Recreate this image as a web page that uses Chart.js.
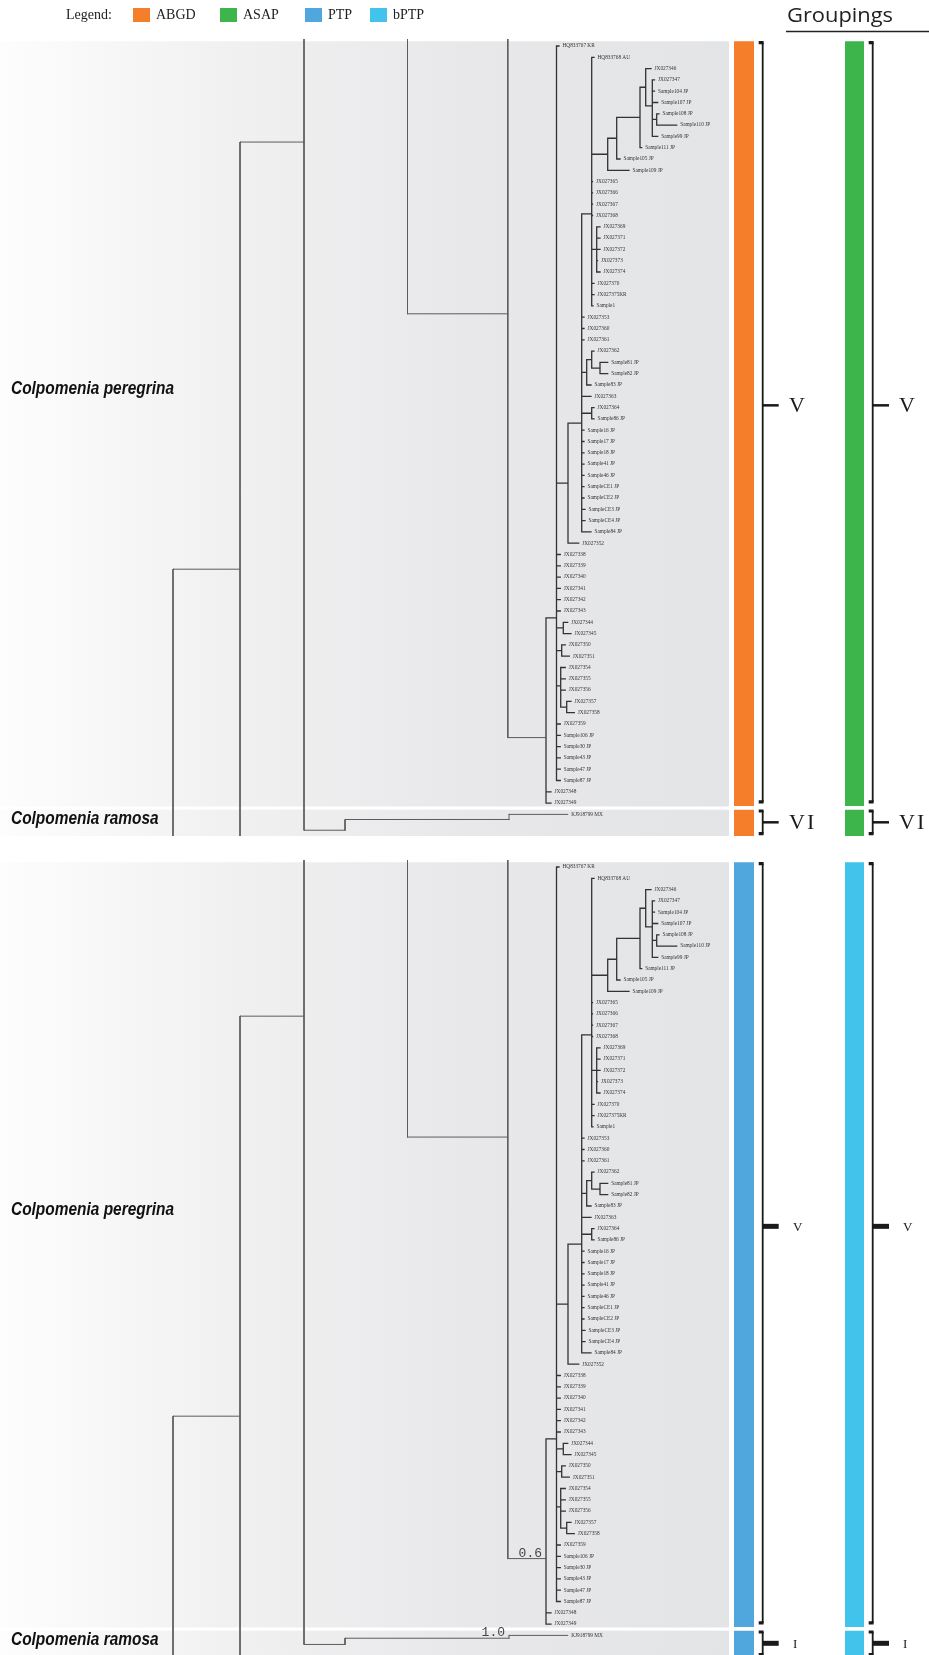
<!DOCTYPE html>
<html>
<head>
<meta charset="utf-8">
<script src="https://cdn.jsdelivr.net/npm/chart.js@4.4.1/dist/chart.umd.min.js"></script>
<style>
  html, body { margin: 0; padding: 0; background: #fff; }
  body { width: 929px; height: 1655px; position: relative; overflow: hidden; }
  canvas { position: absolute; left: 0; }
</style>
</head>
<body>
<canvas id="treeTop" width="929" height="836" style="top:0px"></canvas>
<canvas id="treeBottom" width="929" height="834" style="top:821px"></canvas>
<script>
// Tips of the tree, top to bottom (one row each)
const leafNames = [
  'HQ833767 KR', 'HQ833768 AU', 'JX027346', 'JX027347', 'Sample104 JP', 'Sample107 JP',
  'Sample108 JP', 'Sample110 JP', 'Sample99 JP', 'Sample111 JP', 'Sample105 JP', 'Sample109 JP',
  'JX027365', 'JX027366', 'JX027367', 'JX027368', 'JX027369', 'JX027371', 'JX027372', 'JX027373',
  'JX027374', 'JX027370', 'JX027375KR', 'Sample1', 'JX027353', 'JX027360', 'JX027361', 'JX027362',
  'Sample81 JP', 'Sample82 JP', 'Sample83 JP', 'JX027363', 'JX027364', 'Sample86 JP', 'Sample16 JP',
  'Sample17 JP', 'Sample18 JP', 'Sample41 JP', 'Sample46 JP', 'SampleCE1 JP', 'SampleCE2 JP',
  'SampleCE3 JP', 'SampleCE4 JP', 'Sample84 JP', 'JX027352', 'JX027338', 'JX027339', 'JX027340',
  'JX027341', 'JX027342', 'JX027343', 'JX027344', 'JX027345', 'JX027350', 'JX027351', 'JX027354',
  'JX027355', 'JX027356', 'JX027357', 'JX027358', 'JX027359', 'Sample106 JP', 'Sample30 JP',
  'Sample43 JP', 'Sample47 JP', 'Sample87 JP', 'JX027348', 'JX027349', 'KJ918799 MX'
];
// depth where each tip branch ends
const tipDepth = [
  559, 594, 651, 654.5, 654.5, 657.7, 659, 676.7, 657.7, 641.7, 620, 629,
  592.5, 592.5, 592.5, 592.5, 600, 600, 600, 597.5, 600, 594, 594, 593,
  584, 584, 584, 594, 607.7, 607.7, 591, 591, 594, 594,
  584, 584, 584, 584, 584, 584, 584, 585, 585, 591, 578.7,
  560.3, 560.3, 560.3, 560.3, 560.3, 560.3, 567.7, 571, 565.3, 569.3,
  565.3, 565.3, 565.3, 571, 574.3, 560.3, 560.3, 560.3, 560.3, 560.3, 560.3,
  551, 551, 567.7
];

// internal nodes of the Colpomenia peregrina clade
const cladeIds = ['O', 'P', 'Q', 'R', 'S', 'V', 'AC', 'AB', 'AA', 'Y', 'Z', 'W', 'T', 'T1', 'T2', 'U', 'c344', 'c350', 'c354', 'c357'];
const cladeDepth = [546, 556.5, 568, 581.7, 591.7, 607.7, 616.7, 640, 645.7, 652.3, 656.7, 596.7, 586.7, 591.7, 600, 591.7, 563.3, 561.7, 560.7, 566.7];
const cladeKids = [
  ['P', 66, 67],
  [0, 'Q', 45, 46, 47, 48, 49, 50, 'c344', 'c350', 'c354', 60, 61, 62, 63, 64, 65],
  ['R', 44],
  ['S', 24, 25, 26, 'T', 31, 'U', 34, 35, 36, 37, 38, 39, 40, 41, 42, 43],
  [1, 'V', 12, 13, 14, 15, 'W', 21, 22, 23],
  ['AC', 11],
  ['AB', 10],
  ['AA', 9],
  [2, 'Y'],
  [3, 4, 5, 'Z', 8],
  [6, 7],
  [16, 17, 18, 19, 20],
  ['T1', 30],
  [27, 'T2'],
  [28, 29],
  [32, 33],
  [51, 52],
  [53, 54],
  [55, 56, 57, 'c357'],
  [58, 59]
];

// deeper part of the tree, cut by the panel edges
// [depth, parent depth, row of branch, vertical from, vertical to, child]
const backboneTop = [
  [173, null, null, 46.3, 75],
  [240, 173, 46.3, 8.5, 75],
  [304, 240, 8.5, -5, 69.4],
  [345, 304, 69.4, 68.45, 69.4],
  [509, 345, 68.45, 68.45, null, 68],
  [407.5, null, null, -5, 23.7],
  [507.8, 407.5, 23.7, -5, null, 'O']
];
const backboneBottom = [
  [173, null, null, 48.6, 75],
  [240, 173, 48.6, 13.2, 75],
  [304, 240, 13.2, -5, 68.8],
  [345, 304, 68.8, 68.25, 68.8],
  [509, 345, 68.25, 68.25, null, 68],
  [407.5, null, null, -5, 23.9],
  [507.8, 407.5, 23.9, -5, null, 'O']
];

const groupNames = ['Colpomenia peregrina', 'Colpomenia ramosa'];
const groupRows = [[0, 67], [68, 71]];   // ramosa goes on below the crop
const groupNameRow = [30.4, 68.4];

const methods = ['ABGD', 'ASAP', 'PTP', 'bPTP'];
const methodColors = ['#f47e29', '#3db54a', '#4fa7dd', '#41c3eb'];
const methodClasses = [['V', 'VI'], ['V', 'VI'], ['V', 'I'], ['V', 'I']];
const classRow = [31.8, 68.7];

const supportLabels = ['0.6', '1.0'];
const supportNodes = ['O', 4];   // clade id, or backbone entry

// layout
const ROW_PX = 11.3;
const FIRST_ROW_PX = 46;
const PAD_TOP = 39;
const Y_MIN = -(FIRST_ROW_PX - PAD_TOP) / ROW_PX;
const BOX_RIGHT = 729;
const BAR_X = [744, 854.5];
const BAR_W = [20, 19];
const BRACKET_X = [762.7, 872.7];
const TICK_END = [778.7, 889];
const CLASS_X = [789, 899];

function gap() { return { x: null, y: null }; }

function buildTree(backbone) {
  const rows = {};
  function rowOf(k) {
    if (typeof k === 'number') return k;
    if (rows[k] === undefined) {
      const kids = cladeKids[cladeIds.indexOf(k)];
      rows[k] = kids.reduce((s, c) => s + rowOf(c), 0) / kids.length;
    }
    return rows[k];
  }
  function depthOf(k) {
    return typeof k === 'number' ? tipDepth[k] : cladeDepth[cladeIds.indexOf(k)];
  }

  const clade = [];
  cladeIds.forEach((id, n) => {
    const kids = cladeKids[n];
    const d = cladeDepth[n];
    const first = kids[0], last = kids[kids.length - 1];
    clade.push({ x: depthOf(first), y: rowOf(first) }, { x: d, y: rowOf(first) },
               { x: d, y: rowOf(last) }, { x: depthOf(last), y: rowOf(last) }, gap());
    kids.slice(1, -1).forEach(k => {
      clade.push({ x: d, y: rowOf(k) }, { x: depthOf(k), y: rowOf(k) }, gap());
    });
  });

  const back = [];
  backbone.forEach(b => {
    const [d, pd, row, from, to, kid] = b;
    const end = kid !== undefined ? rowOf(kid) : to;
    if (pd !== null) back.push({ x: pd, y: row }, { x: d, y: row }, gap());
    back.push({ x: d, y: from }, { x: d, y: end }, gap());
    if (kid !== undefined) back.push({ x: d, y: end }, { x: depthOf(kid), y: end }, gap());
  });

  return { clade, back, rowOf };
}

function makePanel(canvasId, opt) {
  const canvas = document.getElementById(canvasId);
  const yMax = Y_MIN + (canvas.height - PAD_TOP) / ROW_PX;
  const tree = buildTree(opt.backbone);

  const boxes = groupRows.map(r => [r[0] - 0.42, r[1] + 0.3]);
  const brackets = boxes.map(b => [b[0] + 0.12, Math.min(b[1] - 0.4, 69.7)]);

  const lineBase = { showLine: true, pointRadius: 0, fill: false, clip: 0, spanGaps: false };
  const datasets = [
    Object.assign({ data: tree.back, borderColor: '#5c5c5c', borderWidth: 1, borderCapStyle: 'square' }, lineBase),
    Object.assign({ data: tree.clade, borderColor: '#333', borderWidth: 1.3, borderCapStyle: 'square' }, lineBase)
  ];

  opt.methods.forEach((m, j) => {
    boxes.forEach((b, g) => {
      datasets.push(Object.assign({
        data: [{ x: BAR_X[j], y: b[0] }, { x: BAR_X[j], y: b[1] - 0.05 }],
        borderColor: methodColors[m], borderWidth: BAR_W[j], borderCapStyle: 'butt'
      }, lineBase));
      const br = brackets[g];
      datasets.push(Object.assign({
        data: [{ x: BRACKET_X[j], y: br[0] }, { x: BRACKET_X[j], y: br[1] }],
        borderColor: '#1a1a1a', borderWidth: 1.8, borderCapStyle: 'butt'
      }, lineBase));
      datasets.push(Object.assign({
        data: [{ x: BRACKET_X[j] - 4, y: br[0] }, { x: BRACKET_X[j] + 0.9, y: br[0] }, gap(),
               { x: BRACKET_X[j] - 4, y: br[1] }, { x: BRACKET_X[j] + 0.9, y: br[1] }],
        borderColor: '#1a1a1a', borderWidth: 3.2, borderCapStyle: 'butt'
      }, lineBase));
      datasets.push(Object.assign({
        data: [{ x: BRACKET_X[j], y: classRow[g] }, { x: TICK_END[j], y: classRow[g] }],
        borderColor: '#1a1a1a', borderWidth: opt.tickWidth, borderCapStyle: 'butt'
      }, lineBase));
    });
  });

  const boxPlugin = {
    id: 'boxes',
    beforeDatasetsDraw(chart) {
      const { ctx, chartArea: a, scales: { x, y } } = chart;
      ctx.save();
      ctx.beginPath();
      ctx.rect(a.left, a.top, a.right - a.left, a.bottom - a.top);
      ctx.clip();
      const x0 = x.getPixelForValue(0), x1 = x.getPixelForValue(BOX_RIGHT);
      const grad = ctx.createLinearGradient(x0, 0, x1, 0);
      grad.addColorStop(0, '#fdfdfd');
      grad.addColorStop(0.3, '#f1f1f2');
      grad.addColorStop(0.65, '#e8e8ea');
      grad.addColorStop(1, '#e3e4e6');
      ctx.fillStyle = grad;
      boxes.forEach(b => {
        const t = y.getPixelForValue(b[0]), btm = y.getPixelForValue(b[1]);
        ctx.fillRect(x0, t, x1 - x0, btm - t);
      });
      ctx.restore();
    }
  };

  const textPlugin = {
    id: 'texts',
    afterDatasetsDraw(chart) {
      const { ctx, chartArea: a, scales: { x, y } } = chart;
      ctx.save();
      ctx.beginPath();
      ctx.rect(a.left, a.top, a.right - a.left, a.bottom - a.top);
      ctx.clip();

      // tip labels
      ctx.font = '5.3px "Liberation Serif"';
      ctx.fillStyle = '#333';
      ctx.textBaseline = 'middle';
      ctx.textAlign = 'left';
      leafNames.forEach((name, i) => {
        ctx.fillText(name, x.getPixelForValue(tipDepth[i]) + 3.5, y.getPixelForValue(i));
      });

      // species names, condensed bold italic
      ctx.font = 'bold italic 18px "Liberation Sans"';
      ctx.fillStyle = '#111';
      const sx = 163 / ctx.measureText(groupNames[0]).width;
      groupNames.forEach((name, g) => {
        ctx.save();
        ctx.translate(x.getPixelForValue(11), y.getPixelForValue(groupNameRow[g]));
        ctx.scale(sx, 1);
        ctx.fillText(name, 0, 0);
        ctx.restore();
      });

      // grouping classes
      ctx.fillStyle = '#1a1a1a';
      ctx.font = opt.classFont;
      ctx.letterSpacing = opt.classSpacing;
      opt.methods.forEach((m, j) => {
        classRow.forEach((r, g) => {
          ctx.fillText(methodClasses[m][g], x.getPixelForValue(CLASS_X[j] + opt.classShift), y.getPixelForValue(r) + 1);
        });
      });
      ctx.letterSpacing = '0px';

      // posterior support
      if (opt.support) {
        ctx.font = '13px "Liberation Mono"';
        ctx.fillStyle = '#444';
        ctx.textAlign = 'right';
        ctx.textBaseline = 'alphabetic';
        supportNodes.forEach((node, k) => {
          let d, r;
          if (typeof node === 'string') {
            d = cladeDepth[cladeIds.indexOf(node)];
            r = tree.rowOf(node);
          } else {
            d = opt.backbone[node][0];
            r = opt.backbone[node][2];
          }
          ctx.fillText(supportLabels[k], x.getPixelForValue(d) - 4, y.getPixelForValue(r) - 2);
        });
      }
      ctx.restore();
    }
  };

  const headerPlugin = {
    id: 'header',
    afterDraw(chart) {
      if (!opt.header) return;
      const ctx = chart.ctx;
      ctx.save();
      ctx.textBaseline = 'middle';
      ctx.textAlign = 'left';
      ctx.fillStyle = '#222';
      ctx.font = '14px "Liberation Serif"';
      ctx.fillText('Legend:', 66, 15);
      const swatchX = [133, 220, 305, 370];
      methods.forEach((m, i) => {
        ctx.fillStyle = methodColors[i];
        ctx.fillRect(swatchX[i], 8, 17, 14);
        ctx.fillStyle = '#222';
        ctx.fillText(m, swatchX[i] + 23, 15);
      });
      ctx.font = '20px "Open Sans"';
      const w = ctx.measureText('Groupings').width;
      ctx.save();
      ctx.translate(787, 16);
      ctx.scale(106 / w, 1);
      ctx.fillText('Groupings', 0, 0);
      ctx.restore();
      ctx.strokeStyle = '#222';
      ctx.lineWidth = 1.5;
      ctx.beginPath();
      ctx.moveTo(786, 31.5);
      ctx.lineTo(929, 31.5);
      ctx.stroke();
      ctx.restore();
    }
  };

  return new Chart(canvas, {
    type: 'scatter',
    data: { datasets },
    options: {
      responsive: false,
      animation: false,
      events: [],
      layout: { padding: { top: PAD_TOP, left: 0, right: 0, bottom: 0 } },
      plugins: { legend: { display: false }, tooltip: { enabled: false } },
      scales: {
        x: { type: 'linear', min: 0, max: 929, display: false },
        y: { type: 'linear', min: Y_MIN, max: yMax, reverse: true, display: false }
      }
    },
    plugins: [boxPlugin, textPlugin, headerPlugin]
  });
}

makePanel('treeTop', {
  backbone: backboneTop, methods: [0, 1], tickWidth: 2.5, header: true, support: false,
  classFont: '22px "Liberation Serif"', classSpacing: '2px', classShift: 0
});
makePanel('treeBottom', {
  backbone: backboneBottom, methods: [2, 3], tickWidth: 5, header: false, support: true,
  classFont: '13px "Liberation Serif"', classSpacing: '0px', classShift: 4
});
</script>
</body>
</html>
